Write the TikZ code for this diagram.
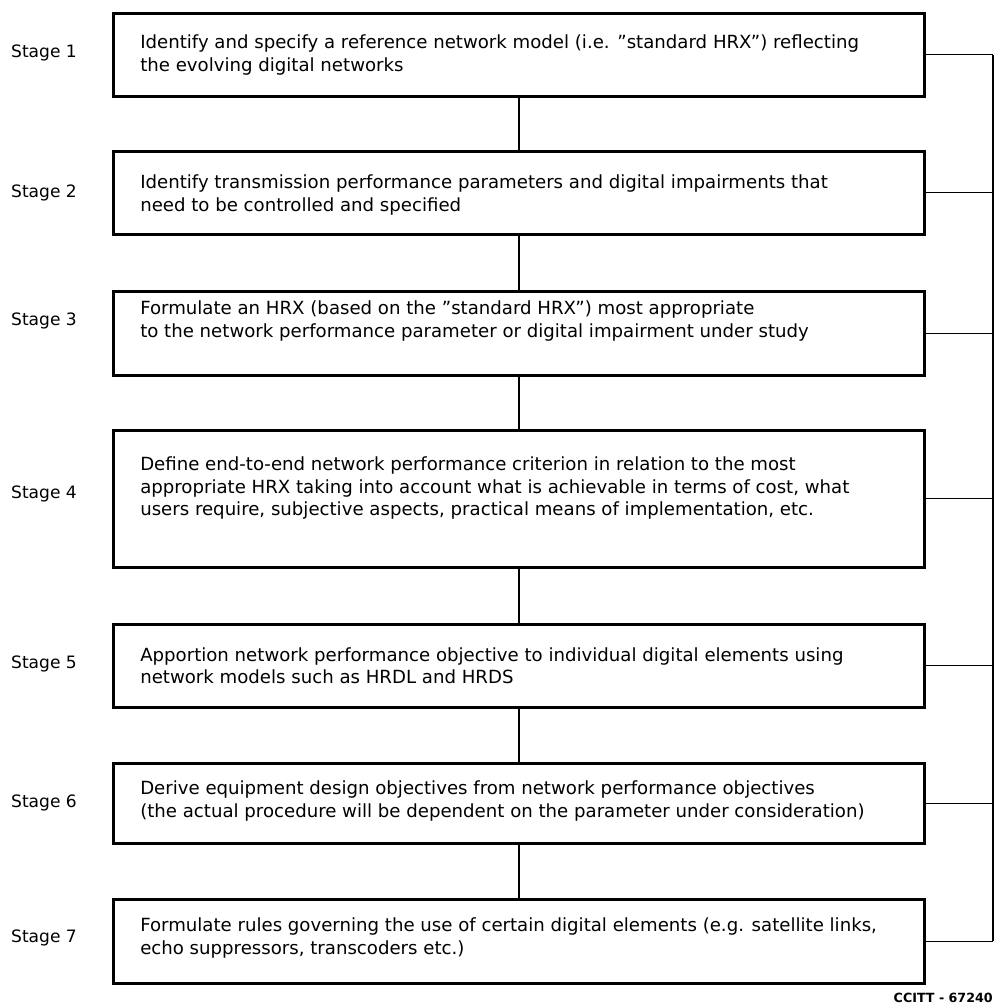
\documentclass[tikz,border=0pt]{standalone}
\usepackage{fontspec}
\setmainfont{DejaVu Sans}
\begin{document}
\begin{tikzpicture}[x=0.75pt,y=-0.75pt,
  stagebox/.style={draw, line width=2pt, rectangle, minimum width=608.25pt, anchor=north west, inner sep=0pt},
  boxtext/.style={anchor=west, align=left, inner sep=0pt, font=\fontsize{13.6pt}{16.8pt}\selectfont},
  stagelabel/.style={anchor=center, inner sep=0pt, font=\fontsize{12.8pt}{15pt}\selectfont},
  link/.style={line width=1.1pt},
  rail/.style={line width=0.8pt}]
\useasboundingbox (0,0) rectangle (994,1006);
% boxes
\node[stagebox, minimum height=62.25pt] (b1) at (112,12) {};
\node[stagebox, minimum height=62.25pt] (b2) at (112,150) {};
\node[stagebox, minimum height=63pt] (b3) at (112,290) {};
\node[stagebox, minimum height=102.75pt] (b4) at (112,429) {};
\node[stagebox, minimum height=62.25pt] (b5) at (112,623) {};
\node[stagebox, minimum height=60pt] (b6) at (112,762) {};
\node[stagebox, minimum height=63pt] (b7) at (112,898) {};
% texts
\node[boxtext] (t1) at (140,55) {Identify and specify a reference network model (i.e. ''standard HRX'') reflecting\\the evolving digital networks};
\node[boxtext] (t2) at (140,195) {Identify transmission performance parameters and digital impairments that\\need to be controlled and specified};
\node[boxtext] (t3) at (140,321) {Formulate an HRX (based on the ''standard HRX'') most appropriate\\to the network performance parameter or digital impairment under study};
\node[boxtext] (t4) at (140,488) {Define end-to-end network performance criterion in relation to the most\\appropriate HRX taking into account what is achievable in terms of cost, what\\users require, subjective aspects, practical means of implementation, etc.};
\node[boxtext] (t5) at (140,666) {Apportion network performance objective to individual digital elements using\\network models such as HRDL and HRDS};
\node[boxtext] (t6) at (140,801) {Derive equipment design objectives from network performance objectives\\(the actual procedure will be dependent on the parameter under consideration)};
\node[boxtext] (t7) at (140,938) {Formulate rules governing the use of certain digital elements (e.g. satellite links,\\echo suppressors, transcoders etc.)};
% stage labels
\node[stagelabel] (s1) at (44,53) {Stage 1};
\node[stagelabel] (s2) at (44,193) {Stage 2};
\node[stagelabel] (s3) at (44,321) {Stage 3};
\node[stagelabel] (s4) at (44,494) {Stage 4};
\node[stagelabel] (s5) at (44,664) {Stage 5};
\node[stagelabel] (s6) at (44,803) {Stage 6};
\node[stagelabel] (s7) at (44,938) {Stage 7};
% vertical links
\draw[link] (b1.south) -- (b2.north);
\draw[link] (b2.south) -- (b3.north);
\draw[link] (b3.south) -- (b4.north);
\draw[link] (b4.south) -- (b5.north);
\draw[link] (b5.south) -- (b6.north);
\draw[link] (b6.south) -- (b7.north);
% right rail
\coordinate (rx) at (993,0);
\foreach \b in {b1,b2,b3,b4,b5,b6,b7}{
  \draw[rail] (\b.east) -- (\b.east -| rx);
}
\draw[rail] (b1.east -| rx) -- (b7.east -| rx);
% figure id
\node[anchor=east, inner sep=0pt, font=\fontsize{9.5pt}{11pt}\selectfont\bfseries] (fid) at (993,998) {CCITT - 67240};
\end{tikzpicture}
\end{document}
